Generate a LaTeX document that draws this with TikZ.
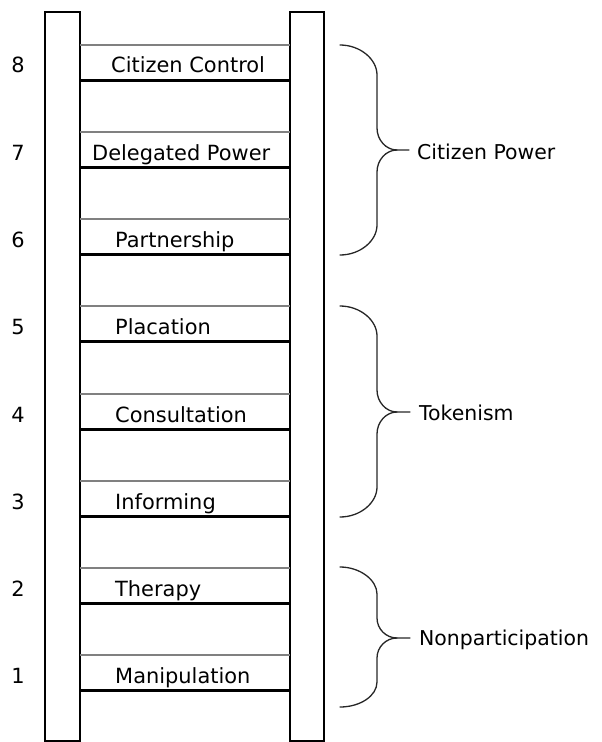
\documentclass[tikz,border=0pt]{standalone}
\usepackage{fontspec}
\setmainfont{DejaVu Sans}
\begin{document}
\begin{tikzpicture}[x=1bp,y=-1bp]
\tikzstyle{rail} = [draw,line width=1.5bp]
\tikzstyle{toprung} = [draw=gray,line width=2.5bp]
\tikzstyle{botrung} = [draw=black,line width=3bp]
\tikzstyle{rungtext} = [anchor=base west,inner sep=0pt,font=\fontsize{21}{25}\selectfont]
\tikzstyle{steplabel} = [anchor=base,inner sep=0pt,font=\fontsize{21}{25}\selectfont]
\tikzstyle{curly} = [draw,line width=1.3bp,line cap=round,color=black!85]
\tikzstyle{grouplabel} = [anchor=base west,inner sep=0pt,font=\fontsize{20.5}{25}\selectfont]

\useasboundingbox (0,0) rectangle (602,742);

% rails
\draw[rail] (45,12) rectangle (80,741);
\draw[rail] (290,12) rectangle (324,741);

% rungs
\draw[toprung] (80,45) -- (290,45);
\draw[botrung] (80,80) -- (290,80);
\draw[toprung] (80,132) -- (290,132);
\draw[botrung] (80,167) -- (290,167);
\draw[toprung] (80,219) -- (290,219);
\draw[botrung] (80,254) -- (290,254);
\draw[toprung] (80,306) -- (290,306);
\draw[botrung] (80,341) -- (290,341);
\draw[toprung] (80,394) -- (290,394);
\draw[botrung] (80,429) -- (290,429);
\draw[toprung] (80,481) -- (290,481);
\draw[botrung] (80,516) -- (290,516);
\draw[toprung] (80,568) -- (290,568);
\draw[botrung] (80,603) -- (290,603);
\draw[toprung] (80,655) -- (290,655);
\draw[botrung] (80,690) -- (290,690);

\node[rungtext] (r8) at (111,73) {Citizen Control};
\node[rungtext] (r7) at (92,160) {Delegated Power};
\node[rungtext] (r6) at (115,247) {Partnership};
\node[rungtext] (r5) at (115,334) {Placation};
\node[rungtext] (r4) at (115,422) {Consultation};
\node[rungtext] (r3) at (115,509) {Informing};
\node[rungtext] (r2) at (115,596) {Therapy};
\node[rungtext] (r1) at (115,683) {Manipulation};

\node[steplabel] (n8) at (18,73) {8};
\node[steplabel] (n7) at (18,160) {7};
\node[steplabel] (n6) at (18,247) {6};
\node[steplabel] (n5) at (18,334) {5};
\node[steplabel] (n4) at (18,422) {4};
\node[steplabel] (n3) at (18,509) {3};
\node[steplabel] (n2) at (18,596) {2};
\node[steplabel] (n1) at (18,683) {1};

% braces
\draw[curly] (340,45) .. controls (360,45) and (377,59) .. (377,75) -- (377,128)
  .. controls (377,140) and (386,150) .. (397,150) -- (409,150);
\draw[curly] (397,150) .. controls (386,150) and (377,160) .. (377,172) -- (377,225)
  .. controls (377,241) and (360,255) .. (340,255);
\draw[curly] (340,306) .. controls (360,306) and (377,320) .. (377,336) -- (377,390)
  .. controls (377,402) and (386,412) .. (397,412) -- (410,412);
\draw[curly] (397,412) .. controls (386,412) and (377,422) .. (377,434) -- (377,487)
  .. controls (377,503) and (360,517) .. (340,517);
\draw[curly] (340,567) .. controls (360,567) and (377,580) .. (377,594) -- (377,618)
  .. controls (377,629) and (386,638) .. (397,638) -- (410,638);
\draw[curly] (397,638) .. controls (386,638) and (377,647) .. (377,658) -- (377,682)
  .. controls (377,696) and (360,707) .. (340,707);

\node[grouplabel] (power) at (417,159) {Citizen Power};
\node[grouplabel] (token) at (419,420) {Tokenism};
\node[grouplabel] (nonpart) at (419,645) {Nonparticipation};

\end{tikzpicture}
\end{document}
